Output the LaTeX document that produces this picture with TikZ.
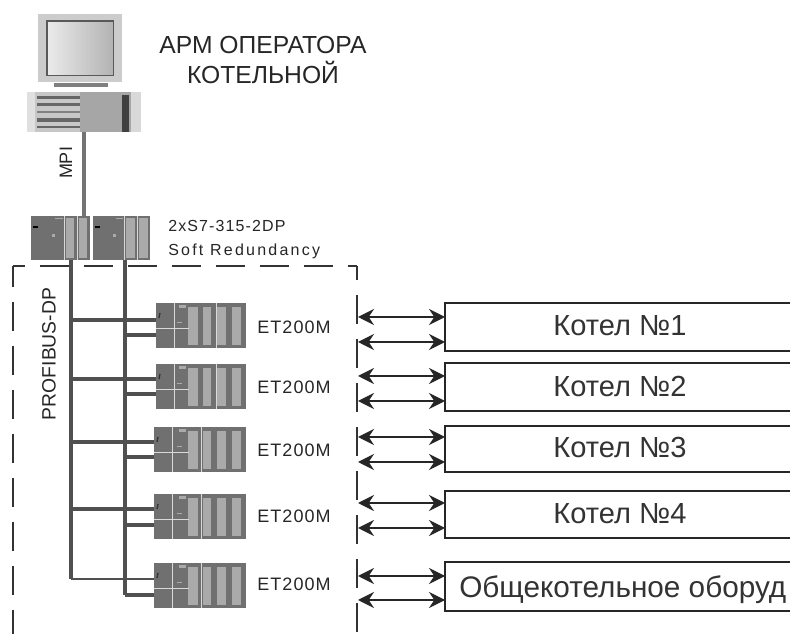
\documentclass[tikz,border=0pt]{standalone}
\usepackage{fontspec}
\setmainfont{Liberation Sans}
\usetikzlibrary{arrows.meta}
\definecolor{rackgray}{RGB}{112,112,112}
\definecolor{barlight}{RGB}{170,170,170}
\definecolor{busgray}{RGB}{80,80,80}
\tikzset{
  rackbody/.style={fill=rackgray,draw=none,inner sep=0pt,outer sep=0pt,anchor=north west},
  bar/.style={fill=barlight,draw=none},
  wline/.style={draw=white!85!black,line width=0.6pt},
  bus/.style={draw=busgray,line width=3pt},
  thinbus/.style={draw=busgray,line width=1.8pt},
  mpibus/.style={draw=gray!90!black,line width=3pt},
  frame/.style={draw=black!80,line width=1.2pt,dash pattern=on 21.8pt off 11.2pt},
  dbl/.style={draw=black!85,line width=1.2pt,{Stealth[length=12pt,width=12pt,inset=4pt]}-{Stealth[length=12pt,width=12pt,inset=4pt]}},
  plant/.style={draw=black!85,line width=1.5pt,fill=white,inner sep=0pt,outer sep=0pt,anchor=north west},
  planttext/.style={font=\fontsize{21.8}{24}\selectfont,text=black!80,inner sep=0pt},
  lasttext/.style={font=\fontsize{22.3}{24}\selectfont,text=black!80,inner sep=0pt},
  ettext/.style={font=\fontsize{13.5}{16}\selectfont\addfontfeature{LetterSpace=6},text=black!85,inner sep=0pt},
  dptext/.style={font=\fontsize{14.5}{16}\selectfont,text=black!85,inner sep=0pt},
  title/.style={font=\fontsize{18.5}{22.5}\selectfont,text=black!85,inner sep=0pt,align=center},
  smalla/.style={font=\fontsize{12}{14}\selectfont\addfontfeature{LetterSpace=7},text=black!85,inner sep=0pt},
  smallb/.style={font=\fontsize{12}{14}\selectfont\addfontfeature{LetterSpace=14},text=black!85,inner sep=0pt},
}
\newcommand{\etrack}[4]{%
  \node[rackbody,minimum width=#4*0.75pt,minimum height=33.75pt] (#1) at (#2,#3) {};
  \begin{scope}[shift={(0,#3)}]
    \fill[bar] (188,4) rectangle (198,42);
    \fill[bar] (203,4) rectangle (211,42);
    \fill[bar] (217,4) rectangle (226,42);
    \fill[bar] (232,4) rectangle (241,42);
    \fill[barlight] (179,2) rectangle (186,5);
    \fill[barlight] (177,19) rectangle (182,20.5);
    \draw[wline] (#2,25) -- (189,25);
    \draw[wline] (#2+18,0) -- (#2+18,45);
    \draw[wline] (\ifnum#2=156 216\else 201\fi,0) -- (\ifnum#2=156 216\else 201\fi,45);
    \draw[black!80,line width=1pt] (#2+3,15) -- (#2+4,10);
  \end{scope}}
\begin{document}
\begin{tikzpicture}[x=0.75pt,y=-0.75pt]
\path[use as bounding box] (0,0) rectangle (790,634);
\clip (0,0) rectangle (790,634);
\fill[white] (0,0) rectangle (790,634);
% monitor
\node[fill=black!20,inner sep=0pt,outer sep=0pt,minimum width=63pt,minimum height=51pt,anchor=north west] (mon) at (38,14) {};
\node[draw=black!65,line width=0.9pt,left color=black!8,right color=black!30,inner sep=0pt,outer sep=0pt,minimum width=50pt,minimum height=41pt,anchor=north west] (scr) at (47,21) {};
\fill[black!50] (54,83) rectangle (108,87);
% pc
\node[fill=black!35,inner sep=0pt,outer sep=0pt,minimum width=85.5pt,minimum height=30pt,anchor=north west] (pc) at (27,92) {};
\fill[black!22] (27,92) rectangle (80,132);
\fill[black!12] (27,92) rectangle (35,132);
\fill[black!60] (37,96) rectangle (80,99);
\fill[black!60] (37,103) rectangle (80,106);
\fill[black!50] (37,111) rectangle (80,113);
\fill[black!60] (37,118) rectangle (80,122);
\fill[black!60] (37,126) rectangle (80,128);
\fill[black!75] (122,95) rectangle (129,132);
\fill[black!15] (131,92) rectangle (141,132);
% CPU racks
\node[rackbody,minimum width=44.25pt,minimum height=33pt] (cpua) at (31,216) {};
\node[rackbody,minimum width=42.75pt,minimum height=33pt] (cpub) at (93,216) {};
\fill[bar] (66,218) rectangle (74,258);
\fill[bar] (79,218) rectangle (87,258);
\fill[bar] (126,218) rectangle (135,258);
\fill[bar] (139,218) rectangle (148,258);
\draw[wline] (64,216) -- (64,260);
\draw[wline] (77,216) -- (77,260);
\draw[wline] (124,216) -- (124,260);
\draw[wline] (137,216) -- (137,260);
\fill[barlight] (55,218) rectangle (63,219);
\fill[barlight] (116,218) rectangle (123,219);
\fill[barlight] (52,234) rectangle (55,237);
\fill[barlight] (113,234) rectangle (116,237);
\fill[black] (33,226) rectangle (38,228);
\fill[black] (95,226) rectangle (100,228);
% ET200M racks
\etrack{eta}{156}{303}{90}
\etrack{etb}{156}{364}{90}
\etrack{etc}{154}{427}{92}
\etrack{etd}{154}{494}{92}
\etrack{ete}{154}{563}{92}
% buses
\coordinate (ta) at (71,260);
\coordinate (tb) at (125,260);
\coordinate (bend1) at (71,579);
\coordinate (bend2) at (125,595);
\draw[mpibus] (pc.south) -- (pc.south |- cpua.north);
\draw[bus] (ta) -- (bend1);
\draw[bus] (tb) -- (bend2);
\foreach \r/\ya/\yb in {eta/320/335,etb/379/394,etc/442/457,etd/509/525}{
  \draw[bus] (71,\ya) -- (\r.west |- 71,\ya);
  \draw[bus] (125,\yb) -- (\r.west |- 125,\yb);
}
\draw[thinbus] (bend1) -- (ete.west |- bend1);
\draw[bus] (bend2) -- (ete.west |- bend2);
% frame
\draw[frame,dash phase=13pt] (13,266) -- (357,266);
\draw[frame,dash phase=6pt] (13,266) -- (13,634);
\draw[frame,dash phase=11pt] (357,266) -- (357,634);
% plant boxes
\foreach \n/\y/\h in {ka/303/48,kb/363/48,kc/426/46,kd/491/47,ke/562/49}{
  \node[plant,minimum width=270pt,minimum height=\h*0.75pt] (\n) at (445,\y) {};
}
\foreach \n/\ya/\yb in {ka/317/342,kb/376/401,kc/437/462,kd/503/528,ke/576/600}{
  \coordinate (l\n a) at (358,\ya);
  \coordinate (l\n b) at (358,\yb);
  \draw[dbl] (l\n a) -- (\n.west |- l\n a);
  \draw[dbl] (l\n b) -- (\n.west |- l\n b);
}
% texts
\node[planttext] (t1) at (620,326) {Котел №1};
\node[planttext] (t2) at (620,386) {Котел №2};
\node[planttext] (t3) at (620,447) {Котел №3};
\node[planttext] (t4) at (620,514) {Котел №4};
\node[lasttext,anchor=west] (t5) at (459,590) {Общекотельное оборуд};
\foreach \n/\y in {1/327,2/387,3/450,4/516,5/584}{
  \node[ettext,anchor=west] (e\n) at (257,\y) {ET200M};
}
\node[title] (arm) at (263,60) {АРМ ОПЕРАТОРА\\КОТЕЛЬНОЙ};
\node[smalla,anchor=west] (cpu1) at (168,226) {2xS7-315-2DP};
\node[smallb,anchor=west] (cpu2) at (168,251) {Soft Redundancy};
\node[font=\fontsize{13.5}{16}\selectfont,text=black!85,inner sep=0pt,rotate=90] (mpi) at (66,163) {MPI};
\node[dptext,rotate=90] (dp) at (49,354) {PROFIBUS-DP};
\end{tikzpicture}
\end{document}
